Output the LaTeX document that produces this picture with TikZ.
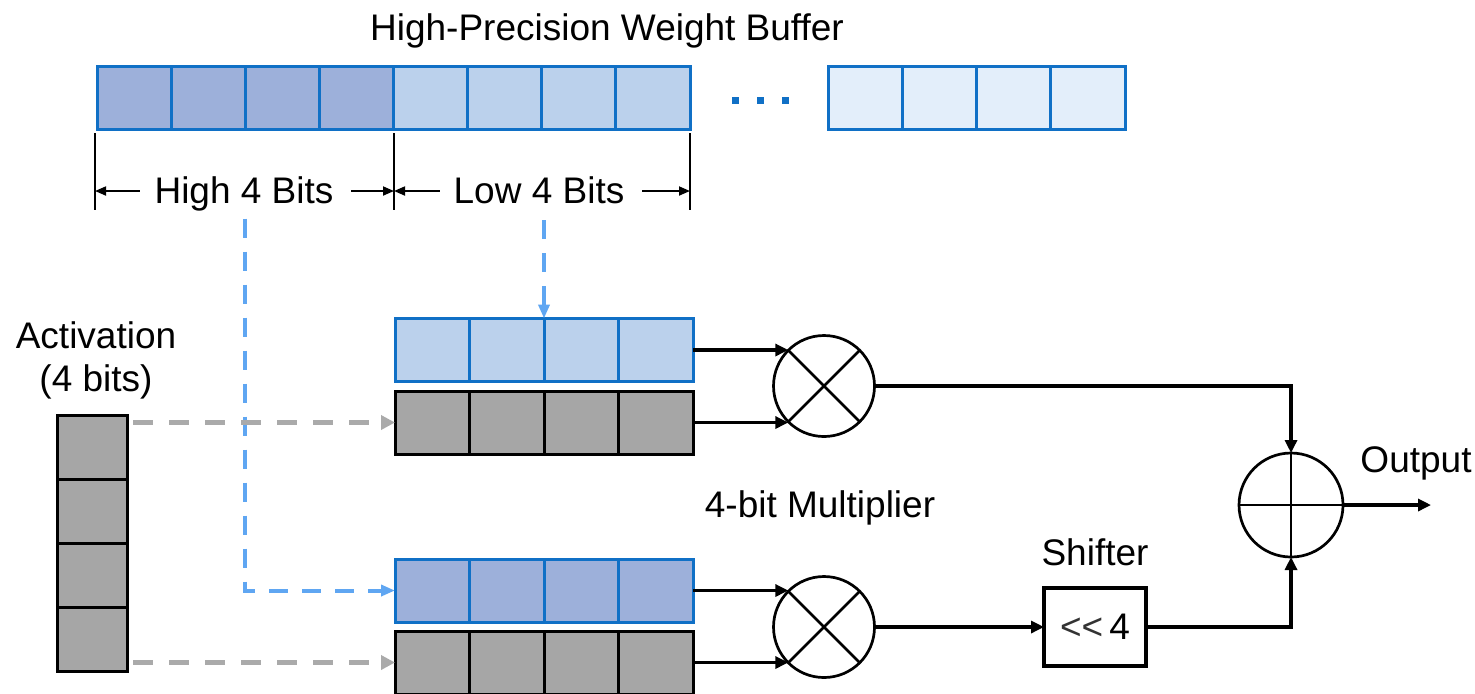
\documentclass[tikz,border=0pt]{standalone}
\usepackage{fontspec}
\setmainfont{Liberation Sans}
\usetikzlibrary{arrows.meta,calc}

\definecolor{hiblue}{RGB}{157,176,218}
\definecolor{loblue}{RGB}{187,209,236}
\definecolor{paleblue}{RGB}{227,238,250}
\definecolor{edgeblue}{RGB}{16,112,198}
\definecolor{linkblue}{RGB}{95,166,242}
\definecolor{cellgray}{RGB}{166,166,166}
\definecolor{linkgray}{RGB}{170,170,170}

\begin{document}
\begin{tikzpicture}[x=0.5pt,y=-0.5pt,
  every node/.style={inner sep=0pt,outer sep=0pt},
  lbl/.style={font=\fontsize{18.5}{21.5}\selectfont,anchor=base},
  wcell/.style={draw=edgeblue,line width=1.5pt,minimum height=31.5pt},
  gcell/.style={draw=black,line width=1.5pt,fill=cellgray,minimum height=31.5pt},
  mult/.style={circle,draw=black,line width=1.35pt,minimum size=50.5pt},
  opline/.style={line width=1.35pt},
  shbox/.style={draw=black,line width=2.3pt,minimum width=51pt,minimum height=39pt,
    font=\fontsize{18.5}{22.5}\selectfont},
  conn/.style={line width=1.6pt,-{Triangle[length=6.5pt,width=6pt]}},
  dim/.style={line width=0.9pt,-{Triangle[length=5.5pt,width=4.5pt]}},
  tick/.style={line width=0.7pt},
  bluelink/.style={draw=linkblue,line width=2pt,dash pattern=on 9.5pt off 7pt,
    -{Triangle[length=7pt,width=5.5pt]}},
  graylink/.style={draw=linkgray,line width=2.5pt,dash pattern=on 10pt off 8pt,
    -{Triangle[length=7pt,width=7pt]}},
]
\useasboundingbox (0,0) rectangle (1475,693);
\fill[white] (0,0) rectangle (1475,693);

% weight buffer: high nibble, low nibble, further words
\node[lbl] (title) at (607,40) {High-Precision Weight Buffer};
\foreach \i in {1,...,4}
  \node[wcell,fill=hiblue,minimum width=37.06pt] (w\i) at ({97+74.125*(\i-0.5)},97.5) {};
\foreach \i in {5,...,8}
  \node[wcell,fill=loblue,minimum width=37.06pt] (w\i) at ({97+74.125*(\i-0.5)},97.5) {};
\foreach \i in {1,...,4}
  \node[wcell,fill=paleblue,minimum width=37.125pt] (r\i) at ({828+74.25*(\i-0.5)},97.5) {};
\foreach \cx in {735,760,785}
  \fill[edgeblue] (\cx-3.5,96.5) rectangle (\cx+3.5,103.5);

% nibble brackets
\coordinate (k0) at (95,133);  \coordinate (k0b) at (95,210);
\coordinate (k1) at (394,133); \coordinate (k1b) at (394,210);
\coordinate (k2) at (690,133); \coordinate (k2b) at (690,210);
\draw[tick] (k0) -- (k0b) (k1) -- (k1b) (k2) -- (k2b);
\coordinate (d0) at (95,191);
\coordinate (d1) at (394,191);
\coordinate (d2) at (690,191);
\node[lbl] (hibits) at (244,203) {High 4 Bits};
\node[lbl] (lobits) at (539,203) {Low 4 Bits};
\path ($(hibits.west)+(-15,0)$) coordinate (hA)
      ($(hibits.east)+(18,0)$) coordinate (hB)
      ($(lobits.west)+(-14,0)$) coordinate (lA)
      ($(lobits.east)+(18,0)$) coordinate (lB);
\draw[dim] (hA |- d0) -- (d0);
\draw[dim] (hB |- d1) -- (d1);
\draw[dim] (lA |- d1) -- (d1);
\draw[dim] (lB |- d2) -- (d2);

% operand registers
\foreach \i in {1,...,4}{
  \node[wcell,fill=loblue,minimum width=37.25pt] (tb\i) at ({395+74.5*(\i-0.5)},350) {};
  \node[gcell,minimum width=37.25pt] (tg\i) at ({395+74.5*(\i-0.5)},422.5) {};
  \node[wcell,fill=hiblue,minimum width=37.25pt] (bb\i) at ({395+74.5*(\i-0.5)},590.5) {};
  \node[gcell,minimum width=37.25pt] (bg\i) at ({395+74.5*(\i-0.5)},662.5) {};
}

% activation
\node[lbl,align=center] (act) at (96,391) {Activation\\(4 bits)};
\foreach \i in {1,...,4}
  \node[gcell,minimum width=35pt,minimum height=32pt] (a\i) at (92,{415+64*(\i-0.5)}) {};

% nibble routing
\path ($(hibits.south)+(1,8)$) coordinate (hS)
      ($(lobits.south)+(0,17)$) coordinate (lS);
\draw[bluelink] (hS) |- (bb1.west);
\draw[bluelink] (tb2.north east |- lS) -- (tb2.north east);
\path ($(a1.east)+(6,0)$) coordinate (aT)
      ($(a4.east)+(6,0)$) coordinate (aB);
\draw[graylink] (aT |- tg1.west) -- (tg1.west);
\draw[graylink] (aB |- bg1.west) -- (bg1.west);

% multipliers
\node[mult] (m1) at (824,386) {};
\node[mult] (m2) at (824,627) {};
\draw[opline] (m1.north west) -- (m1.south east) (m1.north east) -- (m1.south west);
\draw[opline] (m2.north west) -- (m2.south east) (m2.north east) -- (m2.south west);
\node[lbl] (mlabel) at (820,517) {4-bit Multiplier};

% shifter
\node[shbox] (sh) at (1095,627) {\textcolor{black!80}{<{}<}\,4};
\node[lbl] (shlabel) at (1095,565) {Shifter};

% adder
\node[mult,minimum size=52pt] (ad) at (1291,505) {};
\draw[opline] (ad.north) -- (ad.south) (ad.west) -- (ad.east);
\node[lbl] (outlabel) at (1416,472) {Output};
\coordinate (outend) at (1431,505);

% datapath
\draw[conn] (tb4.east) -- (tb4.east -| m1.north west);
\draw[conn] (tg4.east) -- (tg4.east -| m1.south west);
\draw[conn] (bb4.east) -- (bb4.east -| m2.north west);
\draw[conn] (bg4.east) -- (bg4.east -| m2.south west);
\draw[conn] (m1.east) -| (ad.north);
\draw[conn] (m2.east) -- (sh.west);
\draw[conn] (sh.east) -| (ad.south);
\draw[conn] (ad.east) -- (outend);
\end{tikzpicture}
\end{document}
